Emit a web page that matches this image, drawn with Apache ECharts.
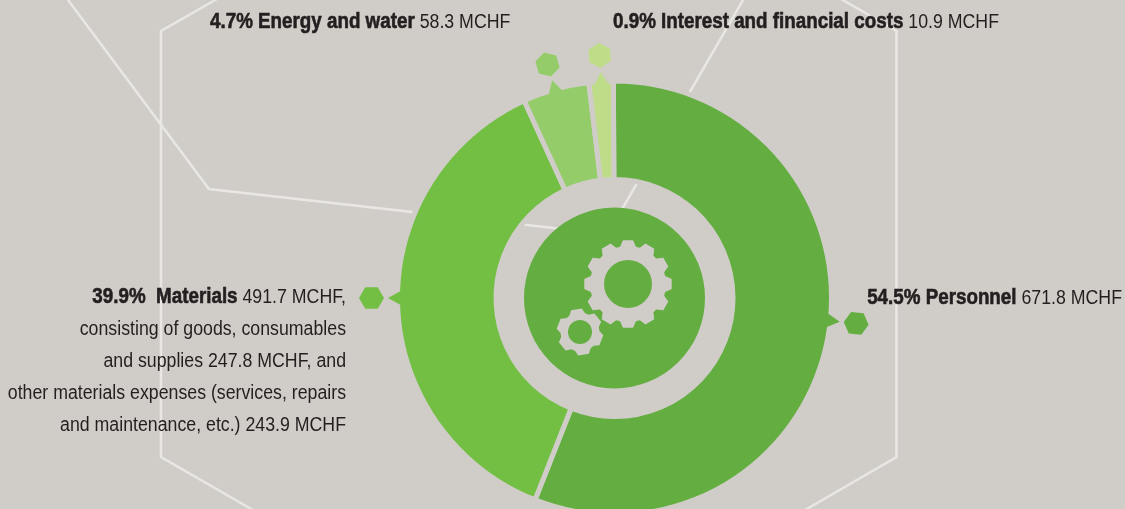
<!DOCTYPE html>
<html>
<head>
<meta charset="utf-8">
<script src="https://cdn.jsdelivr.net/npm/echarts@6/dist/echarts.min.js"></script>
<style>
  html, body { margin: 0; padding: 0; background: #d0cdc8; }
  #chart { width: 1125px; height: 509px; }
</style>
</head>
<body>
<div id="chart"></div>
<script>
const categories = ['Personnel', 'Materials', 'Energy and water', 'Interest and financial costs']
// slice sizes as drawn in the picture (they differ a bit from the printed percentages)
const drawnShares = [56.05, 37.2, 4.95, 1.8]
const percentLabels = ['54.5%', '39.9% ', '4.7%', '0.9%']
const mchfLabels = ['671.8 MCHF', '491.7 MCHF,', '58.3 MCHF', '10.9 MCHF']
const materialsNotes = [
  'consisting of goods, consumables',
  'and supplies 247.8 MCHF, and',
  'other materials expenses (services, repairs',
  'and maintenance, etc.) 243.9 MCHF'
]
const sliceColors = ['#64ae41', '#72bf44', '#94cc6a', '#bfdc88']
// direction of each pointer, degrees clockwise from the top
const pointerAngles = [96, 270, 344, 356.5]

const bg = '#d0cdc8'
const lineColor = '#e9e7e4'
const textColor = '#231f20'
const cx = 614.5
const cy = 298
const fontFamily = '"Liberation Sans", sans-serif'

function polar(angle, r, x, y) {
  const a = angle * Math.PI / 180
  return [(x === undefined ? cx : x) + r * Math.sin(a), (y === undefined ? cy : y) - r * Math.cos(a)]
}

function polyline(points) {
  return {
    type: 'polyline',
    z: 0,
    silent: true,
    shape: { points },
    style: { stroke: lineColor, lineWidth: 2.5, fill: null, lineJoin: 'miter' }
  }
}

function hexagon(angle, color) {
  const c = polar(angle, 243)
  const points = []
  for (let i = 0; i < 6; i++) {
    points.push(polar(angle + i * 60, 12.5, c[0], c[1]))
  }
  return { type: 'polygon', z: 5, silent: true, shape: { points }, style: { fill: color } }
}

function pointer(angle, color) {
  const base = polar(angle, 212)
  const side = [Math.cos(angle * Math.PI / 180), Math.sin(angle * Math.PI / 180)]
  const points = [
    polar(angle, 226.5),
    [base[0] + side[0] * 8, base[1] + side[1] * 8],
    [base[0] - side[0] * 8, base[1] - side[1] * 8]
  ]
  return { type: 'polygon', z: 5, silent: true, shape: { points }, style: { fill: color } }
}

function gear(x, y, teeth, outer, root, hole, rotate) {
  const points = []
  const step = 360 / teeth
  for (let i = 0; i < teeth; i++) {
    const a = rotate + i * step
    points.push(polar(a - step * 0.22, outer, x, y))
    points.push(polar(a + step * 0.22, outer, x, y))
    points.push(polar(a + step * 0.4, root, x, y))
    points.push(polar(a + step * 0.6, root, x, y))
  }
  return [
    { type: 'polygon', z: 6, silent: true, shape: { points }, style: { fill: bg } },
    { type: 'circle', z: 7, silent: true, shape: { cx: x, cy: y, r: hole }, style: { fill: sliceColors[0] } }
  ]
}

function label(x, y, align, content) {
  return {
    type: 'text',
    z: 8,
    silent: true,
    x,
    y,
    scaleX: 0.887,
    style: {
      text: content,
      align,
      verticalAlign: 'middle',
      fill: textColor,
      fontFamily,
      fontSize: 20,
      rich: {
        b: {
          fontFamily,
          fontSize: 21.2,
          fontWeight: 'bold',
          fill: textColor,
          stroke: textColor,
          lineWidth: 0.6
        },
        n: { fontFamily, fontSize: 20, fill: textColor }
      }
    }
  }
}

function headline(i) {
  return `{b|${percentLabels[i]} ${categories[i]}} {n|${mchfLabels[i]}}`
}

const elements = [
  polyline([[217, -1], [161, 31], [161, 457], [253, 510]]),
  polyline([[841, -1], [896.5, 31], [896.5, 457], [805, 510]]),
  polyline([[68, 0], [209, 189], [580, 231]]),
  polyline([[743, 0], [610, 230]]),
  { type: 'circle', z: 5, silent: true, shape: { cx, cy, r: 90.5 }, style: { fill: sliceColors[0] } },
  ...gear(628, 284, 12, 44, 38, 24, 0),
  ...gear(580, 332, 6, 23.5, 19.5, 12, -9),
  label(1122, 298, 'right', headline(0)),
  label(346, 297, 'right', headline(1)),
  label(210, 22, 'left', headline(2)),
  label(613, 22, 'left', headline(3))
]
materialsNotes.forEach((line, i) => {
  elements.push(label(346, 329 + i * 32, 'right', `{n|${line}}`))
})
pointerAngles.forEach((angle, i) => {
  elements.push(pointer(angle, sliceColors[i]))
  elements.push(hexagon(angle, sliceColors[i]))
})

const myChart = echarts.init(document.getElementById('chart'), null, { renderer: 'canvas' })
myChart.setOption({
  backgroundColor: bg,
  animation: false,
  graphic: { elements },
  series: [
    {
      type: 'pie',
      center: [cx, cy],
      radius: [118.5, 217],
      startAngle: 90.3,
      clockwise: true,
      silent: true,
      z: 2,
      label: { show: false },
      labelLine: { show: false },
      itemStyle: { borderColor: bg, borderWidth: 5 },
      data: drawnShares.map((v, i) => {
        return { name: categories[i], value: v, itemStyle: { color: sliceColors[i] } }
      })
    }
  ]
})
</script>
</body>
</html>
